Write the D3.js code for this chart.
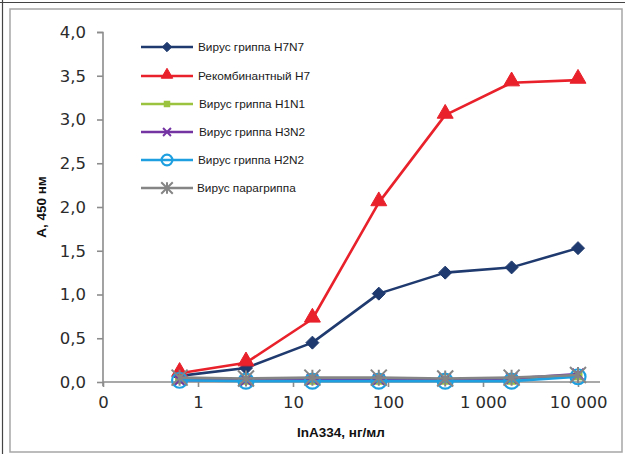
<!DOCTYPE html>
<html>
<head>
<meta charset="utf-8">
<script src="https://cdn.jsdelivr.net/npm/d3@7"></script>
<style>
  html, body { margin: 0; padding: 0; background: #fff; }
  svg { display: block; }
</style>
</head>
<body>
<svg id="chart" width="625" height="454"></svg>
<script>
// Antigen concentration, ng/ml (five-fold dilutions)
const concentrations = [0.64, 3.2, 16, 80, 400, 2000, 10000];

// Optical density A450 for each sample
const seriesNames = [
  "Вирус гриппа H7N7",
  "Рекомбинантный H7",
  "Вирус гриппа H1N1",
  "Вирус гриппа H3N2",
  "Вирус гриппа H2N2",
  "Вирус парагриппа"
];
const valuesH7N7 = [0.07, 0.16, 0.45, 1.01, 1.25, 1.31, 1.53];
const valuesRecH7 = [0.10, 0.22, 0.72, 2.05, 3.05, 3.42, 3.45];
const valuesH1N1 = [0.03, 0.02, 0.02, 0.02, 0.02, 0.02, 0.07];
const valuesH3N2 = [0.02, 0.02, 0.03, 0.03, 0.03, 0.04, 0.09];
const valuesH2N2 = [0.02, 0.01, 0.01, 0.01, 0.01, 0.01, 0.06];
const valuesPara = [0.05, 0.04, 0.05, 0.05, 0.04, 0.05, 0.08];

// Axis ticks
const xTickValues = [0.1, 1, 10, 100, 1000, 10000];
const xTickLabels = ["0", "1", "10", "100", "1 000", "10 000"];
const yTickValues = [0, 0.5, 1, 1.5, 2, 2.5, 3, 3.5, 4];

const seriesValues = [valuesH7N7, valuesRecH7, valuesH1N1, valuesH3N2, valuesH2N2, valuesPara];
const colors = ["#1f3a6e", "#e8212b", "#9bc33f", "#7435a3", "#1ea0e0", "#858585"];
const markers = ["diamond", "triangle", "square", "cross", "circle", "star"];

const svg = d3.select("#chart");

// frame
svg.append("line").attr("x1", 0).attr("x2", 625).attr("y1", 2.5).attr("y2", 2.5)
  .attr("stroke", "#444").attr("stroke-width", 1.2);
svg.append("line").attr("x1", 2.5).attr("x2", 2.5).attr("y1", 0).attr("y2", 454)
  .attr("stroke", "#444").attr("stroke-width", 1.2);
svg.append("rect").attr("x", 10).attr("y", 9).attr("width", 612).attr("height", 443)
  .attr("fill", "none").attr("stroke", "#a6a6a6").attr("stroke-width", 1.5);

const x = d3.scaleLog().domain([0.1, 10000]).range([103, 578]);
const y = d3.scaleLinear().domain([0, 4]).range([382, 32]);

const axisColor = "#8c8c8c";
const tickFont = "'DejaVu Sans', sans-serif";

// y axis
const yAxis = svg.append("g").attr("transform", "translate(103,0)")
  .call(d3.axisLeft(y).tickValues(yTickValues).tickSize(6).tickPadding(11)
    .tickFormat(d => d3.format(".1f")(d).replace(".", ",")));
yAxis.select(".domain").attr("stroke", axisColor).attr("stroke-width", 1.6)
  .attr("d", "M-6,32.5H0V386");
yAxis.selectAll(".tick line").attr("stroke", axisColor).attr("stroke-width", 1.6);
yAxis.selectAll(".tick text").attr("font-family", tickFont).attr("font-size", 16.5)
  .attr("fill", "#2b2b2b");

// x axis
const xAxis = svg.append("g").attr("transform", "translate(0,382)")
  .call(d3.axisBottom(x).tickValues(xTickValues).tickSize(5).tickPadding(9)
    .tickFormat((d, i) => xTickLabels[i]));
xAxis.select(".domain").attr("stroke", axisColor).attr("stroke-width", 1.6)
  .attr("d", "M103,0H600");
xAxis.selectAll(".tick line").attr("stroke", axisColor).attr("stroke-width", 1.6);
xAxis.selectAll(".tick text").attr("font-family", tickFont).attr("font-size", 16.5)
  .attr("fill", "#2b2b2b");

// axis titles
svg.append("text").attr("transform", "translate(46,207) rotate(-90)")
  .attr("text-anchor", "middle").attr("font-family", "'Liberation Sans', Arial, sans-serif")
  .attr("font-weight", "bold").attr("font-size", 13.5).attr("fill", "#111")
  .text("А, 450 нм");
svg.append("text").attr("x", 341).attr("y", 437)
  .attr("text-anchor", "middle").attr("font-family", "'Liberation Sans', Arial, sans-serif")
  .attr("font-weight", "bold").attr("font-size", 13.5).attr("fill", "#111")
  .text("InA334, нг/мл");

// marker drawing
function drawMarker(g, type, color, scale) {
  const s = scale;
  if (type === "diamond") {
    const r = 6.5 * s;
    g.append("path").attr("d", `M0,${-r}L${r},0L0,${r}L${-r},0Z`)
      .attr("fill", color).attr("stroke", color).attr("stroke-width", 1)
      .attr("stroke-linejoin", "round");
  } else if (type === "triangle") {
    g.append("path").attr("d", d3.symbol(d3.symbolTriangle, 110 * s * s)())
      .attr("transform", "translate(0," + (-1.5 * s) + ")")
      .attr("fill", color).attr("stroke", color).attr("stroke-width", 1);
  } else if (type === "square") {
    g.append("rect").attr("x", -4.5 * s).attr("y", -4.5 * s)
      .attr("width", 9 * s).attr("height", 9 * s).attr("fill", color);
  } else if (type === "cross") {
    const r = 5.5 * s;
    g.append("path").attr("d", `M${-r},${-r}L${r},${r}M${-r},${r}L${r},${-r}`)
      .attr("stroke", color).attr("stroke-width", 2).attr("fill", "none");
  } else if (type === "circle") {
    g.append("circle").attr("r", 7.5 * s).attr("fill", "none")
      .attr("stroke", color).attr("stroke-width", 2.2);
  } else if (type === "star") {
    const r = 8 * s;
    g.append("path").attr("d", `M${-r},${-r}L${r},${r}M${-r},${r}L${r},${-r}M0,${-r}V${r}`)
      .attr("stroke", color).attr("stroke-width", 2).attr("fill", "none");
  }
}

const line = d3.line().x((d, i) => x(concentrations[i])).y(d => y(d));

const plot = svg.append("g");
seriesValues.forEach((vals, si) => {
  const sg = plot.append("g");
  sg.append("path").datum(vals).attr("d", line)
    .attr("fill", "none").attr("stroke", colors[si]).attr("stroke-width", 2.6)
    .attr("stroke-linejoin", "round");
  vals.forEach((v, i) => {
    const mg = sg.append("g").attr("transform", `translate(${x(concentrations[i])},${y(v)})`);
    drawMarker(mg, markers[si], colors[si], 1);
  });
});

// legend
const legendRows = [47, 76, 104, 132, 160, 188];
const legendTextX = [198, 198, 199, 199, 198, 197];
const legend = svg.append("g");
seriesNames.forEach((name, si) => {
  const ly = legendRows[si];
  legend.append("line").attr("x1", 141).attr("x2", 193).attr("y1", ly).attr("y2", ly)
    .attr("stroke", colors[si]).attr("stroke-width", 2.6);
  const mg = legend.append("g").attr("transform", `translate(167,${ly})`);
  drawMarker(mg, markers[si], colors[si], 0.72);
  legend.append("text").attr("x", legendTextX[si]).attr("y", ly + 4)
    .attr("font-family", "'Liberation Sans', Arial, sans-serif").attr("font-size", 11.8)
    .attr("fill", "#1a1a1a").text(name);
});
</script>
</body>
</html>
